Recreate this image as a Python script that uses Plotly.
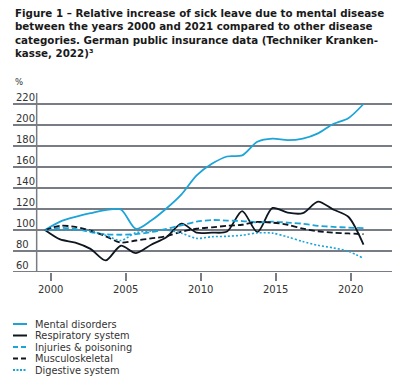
import plotly.graph_objects as go

years = list(range(2000, 2022))
mental = [100, 108, 112.5, 116, 119, 119.5, 101, 109, 120.5, 134, 152, 163, 170, 171, 184, 187, 185.5, 187, 192, 201, 206.5, 220]
respiratory = [100, 91, 88, 82, 71, 85, 78, 86, 93, 106, 97.5, 97.5, 98.5, 118, 98, 121, 116.5, 116, 127, 119.5, 112.6, 86]
injuries = [100, 102, 101, 98, 96, 95.5, 96, 98, 101, 104.5, 108, 109.5, 109, 108.5, 107.3, 108, 107, 106, 104, 103, 102.3, 101.7]
musculo = [100, 104, 103, 99.5, 94, 88, 90, 92, 94, 98.4, 101.2, 102.5, 104, 105, 107.7, 107, 105, 101.3, 98.8, 97.5, 96.7, 96]
digestive = [100, 100, 100, 99, 95, 90, 97.5, 99, 100, 97, 92, 93.6, 94, 95, 97.2, 97, 93.4, 89, 85.4, 83, 79.7, 73]

series_names = ["Mental disorders", "Respiratory system", "Injuries & poisoning", "Musculoskeletal", "Digestive system"]
tick_labels = ["2000", "2005", "2010", "2015", "2020"]
y_ticks = [60, 80, 100, 120, 140, 160, 180, 200, 220]
title_lines = [
    "Figure 1 – Relative increase of sick leave due to mental disease",
    "between the years 2000 and 2021 compared to other disease",
    "categories. German public insurance data (Techniker Kranken-",
    "kasse, 2022)³",
]

BLUE = "#1ca4d8"
DARK = "#0e1620"
GRID = "#787c84"
TXT = "#333333"
FONT = "DejaVu Sans, Verdana, sans-serif"

styles = [
    dict(color=BLUE, dash="solid", width=1.8),
    dict(color=DARK, dash="solid", width=1.8),
    dict(color=BLUE, dash="6px,3px", width=1.8),
    dict(color=DARK, dash="6px,3px", width=1.8),
    dict(color=BLUE, dash="2px,2px", width=1.6),
]
legend_dash = ["solid", "solid", "5px,3px", "5px,3px", "2px,1.5px"]
data = [mental, respiratory, injuries, musculo, digestive]

fig = go.Figure()
for name, vals, st in zip(series_names, data, styles):
    fig.add_trace(go.Scatter(x=years, y=vals, name=name, mode="lines",
                             line=dict(shape="spline", smoothing=0.8, **st),
                             showlegend=False))

# The page body has an 8px default margin, so figure coords = page coords - 8.
W, H = 392, 371
PL, PR, PT, PB = 5, 392, 75, 264   # plot area in figure pixels
L, R, T, B = PL, W - PR, PT, H - PB
x0 = 2000 - 32 / 15.167
x1 = x0 + 387 / 15.167
tickvals = [2000.376 + k * 4.945 for k in range(5)]


def px(fx):
    return (fx - PL) / (PR - PL)


def py(fy):
    return (PB - fy) / (PB - PT)


fig.update_layout(
    width=W, height=H,
    margin=dict(l=L, r=R, t=T, b=B, pad=0),
    paper_bgcolor="white", plot_bgcolor="white",
    font=dict(family=FONT, size=10, color=TXT),
    xaxis=dict(range=[x0, x1], tickvals=tickvals, ticktext=tick_labels,
               showgrid=False, zeroline=False, showline=False,
               ticks="outside", ticklen=8, tickwidth=1.5, tickcolor=GRID,
               tickfont=dict(size=10, color=TXT)),
    yaxis=dict(range=[60, 240], tickvals=y_ticks,
               showgrid=True, gridcolor=GRID, gridwidth=1.5,
               zeroline=False, showline=False, ticks="",
               ticklabelposition="inside top",
               tickfont=dict(size=10, color=TXT)),
)

# title lines
for i, line in enumerate(title_lines):
    fig.add_annotation(text=line, xref="paper", yref="paper", x=px(5), y=py(4.5 + 13.6 * i),
                       xanchor="left", yanchor="middle", showarrow=False,
                       font=dict(family=FONT, size=10.3, color="#1a1a1a", weight="bold"))

# bottom axis line and vertical axis line
fig.add_shape(type="line", xref="paper", yref="y", x0=0, x1=1, y0=60, y1=60,
              line=dict(color=GRID, width=1.8))
fig.add_shape(type="line", xref="x", yref="y", x0=1999.45, x1=1999.45, y0=60, y1=230.5,
              line=dict(color=GRID, width=1.5))

fig.add_annotation(text="%", xref="paper", yref="paper", x=px(5), y=py(74),
                   xanchor="left", yanchor="middle", showarrow=False,
                   font=dict(size=8.5, color=TXT))

# manual legend
leg_y = [316, 327.5, 339, 350.5, 362]
for name, st, dsh, fy in zip(series_names, styles, legend_dash, leg_y):
    fig.add_shape(type="line", xref="paper", yref="paper",
                  x0=px(5), x1=px(19), y0=py(fy), y1=py(fy),
                  line=dict(color=st["color"], width=2, dash=dsh))
    fig.add_annotation(text=name, xref="paper", yref="paper", x=px(25), y=py(fy),
                       xanchor="left", yanchor="middle", showarrow=False,
                       font=dict(size=9.8, color=TXT))

fig.write_html("out.html")
